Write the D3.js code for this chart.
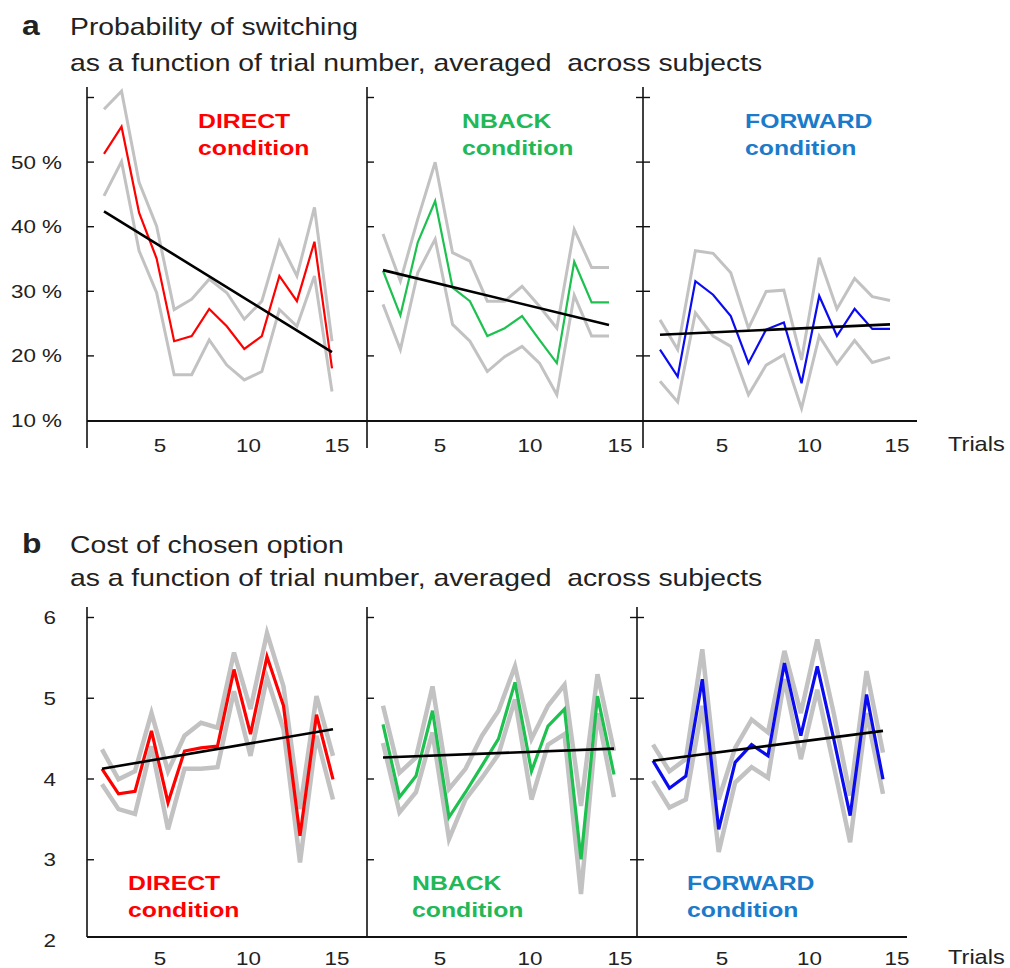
<!DOCTYPE html>
<html>
<head>
<meta charset="utf-8">
<script src="https://cdn.jsdelivr.net/npm/d3@7"></script>
<style>
  body { margin: 0; background: #fff; }
  text { font-family: "Liberation Sans", Arial, sans-serif; fill: #222; white-space: pre; }
</style>
</head>
<body>
<div id="chart"></div>
<script>
// trial numbers (switching starts at trial 2)
const trialsSwitch = [2, 3, 4, 5, 6, 7, 8, 9, 10, 11, 12, 13, 14, 15];
const trialsCost = [1, 2, 3, 4, 5, 6, 7, 8, 9, 10, 11, 12, 13, 14, 15];
const conditions = ["DIRECT", "NBACK", "FORWARD"];
const lineColors = ["#ff0000", "#1ec150", "#0b0bf0"];
const textColors = ["#ff0000", "#22b857", "#1b7bca"];
const xTicks = [5, 10, 15];

// a: probability of switching (%), mean and band
const switchDirect   = [51.2, 55.4, 42.1, 35.0, 22.2, 23.0, 27.2, 24.5, 21.0, 23.0, 32.3, 28.4, 37.6, 18.0];
const switchDirectHi = [58.1, 60.9, 46.8, 40.0, 27.1, 28.7, 31.8, 29.7, 25.6, 28.4, 37.7, 32.3, 42.9, 22.2];
const switchDirectLo = [44.7, 50.0, 36.2, 29.7, 17.0, 17.0, 22.4, 18.5, 16.2, 17.5, 27.1, 24.5, 32.3, 14.4];
const switchDirectFit = [42.3, 20.5];

const switchNback   = [33.1, 26.2, 37.5, 43.9, 30.5, 28.4, 23.0, 24.2, 26.1, 22.4, 18.8, 34.5, 28.2, 28.2];
const switchNbackHi = [38.8, 31.5, 41.1, 49.9, 35.9, 34.6, 28.4, 28.4, 30.7, 27.6, 24.2, 39.5, 33.6, 33.6];
const switchNbackLo = [27.9, 20.9, 32.8, 38.0, 24.8, 22.2, 17.5, 19.8, 21.4, 18.8, 13.9, 29.3, 23.0, 23.0];
const switchNbackFit = [33.2, 24.7];

const switchForward   = [20.9, 16.7, 31.5, 29.4, 26.1, 18.8, 24.0, 25.1, 15.7, 29.2, 23.0, 27.2, 24.1, 24.1];
const switchForwardHi = [25.5, 20.9, 36.2, 35.8, 32.8, 24.2, 29.9, 30.1, 19.3, 35.1, 27.2, 31.9, 29.1, 28.5];
const switchForwardLo = [16.0, 12.8, 26.6, 23.0, 21.4, 13.9, 18.5, 20.1, 11.8, 23.0, 18.7, 22.3, 18.9, 19.7];
const switchForwardFit = [23.2, 24.8];

// b: cost of chosen option, mean and band
const costDirect   = [4.12, 3.81, 3.84, 4.59, 3.70, 4.34, 4.38, 4.40, 5.35, 4.55, 5.51, 4.90, 3.29, 4.79, 3.99];
const costDirectHi = [4.36, 3.99, 4.09, 4.81, 4.09, 4.53, 4.69, 4.63, 5.56, 4.86, 5.80, 5.14, 3.62, 5.02, 4.28];
const costDirectLo = [3.93, 3.62, 3.56, 4.40, 3.37, 4.12, 4.12, 4.14, 5.08, 4.28, 5.25, 4.61, 2.96, 4.53, 3.74];
const costDirectFit = [4.12, 4.61];

const costNback   = [4.67, 3.77, 4.03, 4.84, 3.52, 3.83, 4.16, 4.49, 5.19, 4.09, 4.65, 4.86, 3.00, 5.02, 4.05];
const costNbackHi = [4.90, 4.07, 4.26, 5.14, 3.87, 4.12, 4.53, 4.84, 5.39, 4.49, 4.90, 5.16, 3.66, 5.29, 4.34];
const costNbackLo = [4.44, 3.58, 3.83, 4.57, 3.25, 3.74, 4.01, 4.30, 4.98, 3.74, 4.42, 4.55, 2.57, 4.81, 3.77];
const costNbackFit = [4.26, 4.37];

const costForward   = [4.22, 3.88, 4.03, 5.23, 3.37, 4.20, 4.42, 4.28, 5.43, 4.53, 5.39, 4.49, 3.54, 5.04, 3.99];
const costForwardHi = [4.42, 4.09, 4.24, 5.60, 3.74, 4.38, 4.73, 4.57, 5.58, 4.81, 5.72, 4.81, 3.79, 5.33, 4.32];
const costForwardLo = [3.97, 3.64, 3.74, 4.90, 3.09, 3.95, 4.14, 4.01, 5.23, 4.24, 5.10, 4.16, 3.21, 4.81, 3.81];
const costForwardFit = [4.22, 4.59];

const width = 1010, height = 968;
const stretch = 1.18; // text in the figure is a bit wider than normal

const svg = d3.select("#chart")
  .append("svg")
  .attr("width", width)
  .attr("height", height);

function label(x, y, str, size, opts = {}) {
  const t = svg.append("text")
    .attr("transform", `translate(${x},${y}) scale(${stretch},1)`)
    .attr("font-size", size)
    .text(str);
  if (opts.anchor) t.attr("text-anchor", opts.anchor);
  if (opts.bold) t.attr("font-weight", "bold");
  if (opts.fill) t.style("fill", opts.fill);
  return t;
}

// label scales for the "Trials" axis of each column
const labelX = [[160, 337], [440, 620], [722, 897]].map(r =>
  d3.scaleLinear().domain([5, 15]).range(r));

const rows = [
  {
    trials: trialsSwitch,
    y: d3.scaleLinear().domain([10, 60]).range([420, 97]),
    axisX: [87, 367, 643],
    dataX: [[104, 332], [383, 609], [660, 890]],
    lineTop: 87, lineBottom: 448, base: 421, baseEnd: 917,
    ticks: [20, 30, 40, 50, 60],
    tickLabels: [10, 20, 30, 40, 50],
    fmt: d => d + " %",
    labelRight: 62,
    series: [
      [switchDirect, switchDirectHi, switchDirectLo, switchDirectFit],
      [switchNback, switchNbackHi, switchNbackLo, switchNbackFit],
      [switchForward, switchForwardHi, switchForwardLo, switchForwardFit]
    ],
    grayW: 3, colW: 2.2,
    condX: [198, 462, 745], condY: 128,
    xLabY: 452, trialsY: 451,
    title: ["a", "Probability of switching",
            "as a function of trial number, averaged  across subjects"],
    titleY: [35, 71]
  },
  {
    trials: trialsCost,
    y: d3.scaleLinear().domain([2, 6]).range([940, 617]),
    axisX: [87, 367, 637],
    dataX: [[102, 333], [383, 614], [653, 883]],
    lineTop: 607, lineBottom: 937, base: 937, baseEnd: 907,
    ticks: [3, 4, 5, 6],
    tickLabels: [2, 3, 4, 5, 6],
    fmt: d => d,
    labelRight: 56,
    series: [
      [costDirect, costDirectHi, costDirectLo, costDirectFit],
      [costNback, costNbackHi, costNbackLo, costNbackFit],
      [costForward, costForwardHi, costForwardLo, costForwardFit]
    ],
    grayW: 4.5, colW: 3.2,
    condX: [128, 412, 687], condY: 890,
    xLabY: 965, trialsY: 964,
    title: ["b", "Cost of chosen option",
            "as a function of trial number, averaged  across subjects"],
    titleY: [553, 586]
  }
];

rows.forEach(row => {
  const y = row.y;

  // titles
  label(22, row.titleY[0], row.title[0], 27, { bold: true });
  label(70, row.titleY[0], row.title[1], 24);
  label(70, row.titleY[1], row.title[2], 24);

  // horizontal baseline
  svg.append("line")
    .attr("x1", row.axisX[0]).attr("x2", row.baseEnd)
    .attr("y1", row.base).attr("y2", row.base)
    .attr("stroke", "#111").attr("stroke-width", 2);

  // vertical axis lines with inward ticks
  row.axisX.forEach((ax, i) => {
    svg.append("line")
      .attr("x1", ax).attr("x2", ax)
      .attr("y1", row.lineTop).attr("y2", row.lineBottom)
      .attr("stroke", "#111").attr("stroke-width", 1.6);

    const g = svg.append("g")
      .attr("transform", `translate(${ax},0)`)
      .call(d3.axisRight(y).tickValues(row.ticks).tickSize(7).tickFormat(""));
    g.select(".domain").remove();
    g.selectAll("line").attr("stroke", "#111").attr("stroke-width", 1.4);

    if (i === 2) {
      const gl = svg.append("g")
        .attr("transform", `translate(${ax},0)`)
        .call(d3.axisLeft(y).tickValues(row.ticks).tickSize(7).tickFormat(""));
      gl.select(".domain").remove();
      gl.selectAll("line").attr("stroke", "#111").attr("stroke-width", 1.4);
    }
  });

  // y tick labels
  row.tickLabels.forEach(v => {
    label(row.labelRight, y(v) + 7, row.fmt(v), 19, { anchor: "end" });
  });

  // x tick labels
  labelX.forEach(sx => {
    xTicks.forEach(t => label(sx(t), row.xLabY, t, 19, { anchor: "middle" }));
  });
  label(948, row.trialsY, "Trials", 20);

  // data
  row.series.forEach((s, i) => {
    const x = d3.scaleLinear()
      .domain([row.trials[0], row.trials[row.trials.length - 1]])
      .range(row.dataX[i]);
    const line = d3.line()
      .x((d, j) => x(row.trials[j]))
      .y(d => y(d));

    [s[1], s[2]].forEach(band => {
      svg.append("path")
        .datum(band)
        .attr("d", line)
        .attr("fill", "none")
        .attr("stroke", "#c2c2c2")
        .attr("stroke-width", row.grayW);
    });

    svg.append("path")
      .datum(s[0])
      .attr("d", line)
      .attr("fill", "none")
      .attr("stroke", lineColors[i])
      .attr("stroke-width", row.colW);

    const fitX = [row.trials[0], row.trials[row.trials.length - 1]];
    svg.append("line")
      .attr("x1", x(fitX[0])).attr("x2", x(fitX[1]))
      .attr("y1", y(s[3][0])).attr("y2", y(s[3][1]))
      .attr("stroke", "#000").attr("stroke-width", 2.6);

    // condition label
    label(row.condX[i], row.condY, conditions[i], 21, { bold: true, fill: textColors[i] });
    label(row.condX[i], row.condY + 27, "condition", 21, { bold: true, fill: textColors[i] });
  });
});
</script>
</body>
</html>
